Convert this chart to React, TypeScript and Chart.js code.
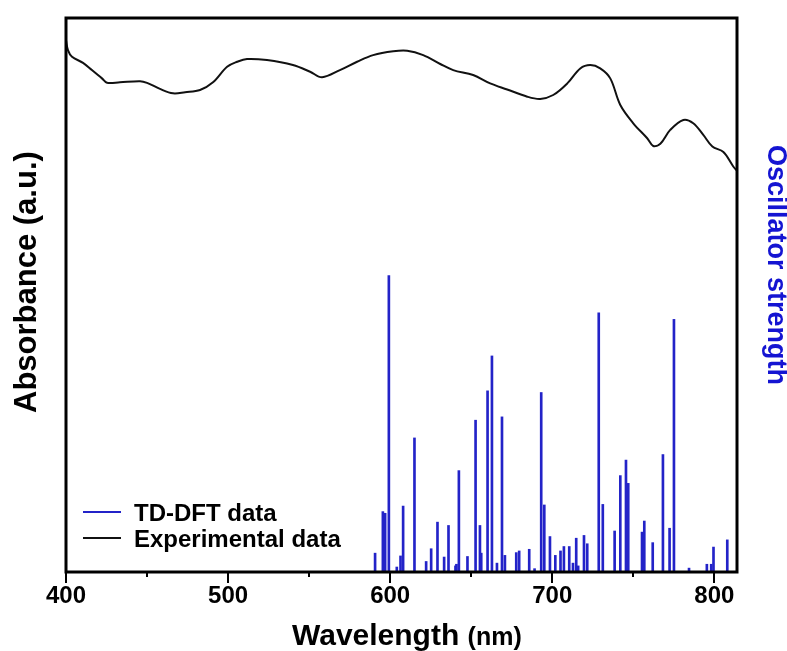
import React, { useEffect, useRef } from 'react';
import { Chart, registerables } from 'chart.js';

Chart.register(...registerables);

// Experimental absorbance spectrum (arbitrary units)
const expWavelength = [400, 401.2, 403.7, 410.5, 416, 422.2, 425.3, 433.3, 445.7, 450, 458, 466, 473.5, 482.7, 490.7, 499.4, 505.6, 511.7, 524, 540, 550.6, 558, 569, 579.6, 589.5, 601.9, 610.5, 620.4, 630.9, 638.9, 651.2, 661.7, 672.2, 684.6, 692.6, 700.6, 709.3, 717.3, 723.5, 729.6, 735.8, 742, 750, 758.6, 762.3, 766.7, 772.8, 780.9, 787, 793.2, 798.8, 805.6, 811.7, 814];
const expAbsorbance = [0.960, 0.942, 0.930, 0.919, 0.906, 0.891, 0.883, 0.884, 0.886, 0.883, 0.872, 0.864, 0.866, 0.870, 0.884, 0.912, 0.921, 0.926, 0.924, 0.915, 0.903, 0.893, 0.906, 0.921, 0.933, 0.940, 0.941, 0.933, 0.917, 0.906, 0.897, 0.882, 0.871, 0.858, 0.854, 0.861, 0.882, 0.909, 0.915, 0.909, 0.891, 0.843, 0.810, 0.783, 0.769, 0.773, 0.798, 0.816, 0.810, 0.789, 0.768, 0.758, 0.732, 0.724];

// TD-DFT transitions (arbitrary units)
const tdWavelength = [590.7, 595.5, 596.9, 599.2, 604.1, 606.4, 608.0, 615.0, 622.2, 625.3, 629.2, 633.3, 636.0, 640.3, 640.9, 642.4, 647.7, 652.7, 655.4, 656.2, 660.1, 662.8, 665.9, 669.0, 670.8, 677.8, 679.6, 685.8, 689.1, 693.2, 695.1, 698.6, 701.9, 705.1, 707.2, 710.5, 712.8, 714.8, 716.0, 719.6, 721.6, 728.7, 731.2, 738.5, 742.0, 745.5, 746.9, 755.4, 756.8, 762.0, 768.3, 772.4, 775.1, 784.4, 795.4, 798.1, 799.5, 808.0];
const tdStrength = [0.034, 0.109, 0.106, 0.535, 0.009, 0.029, 0.119, 0.242, 0.019, 0.042, 0.090, 0.027, 0.084, 0.011, 0.014, 0.183, 0.028, 0.274, 0.084, 0.034, 0.327, 0.390, 0.016, 0.280, 0.030, 0.035, 0.038, 0.041, 0.006, 0.324, 0.121, 0.064, 0.030, 0.038, 0.046, 0.046, 0.016, 0.061, 0.011, 0.066, 0.051, 0.468, 0.122, 0.074, 0.174, 0.202, 0.160, 0.072, 0.092, 0.053, 0.212, 0.079, 0.456, 0.007, 0.014, 0.014, 0.045, 0.058];

const xMajorTicks = [400, 500, 600, 700, 800];
const xMinorTicks = [450, 550, 650, 750];
const xRange = [400, 814];
const seriesLabels = ['TD-DFT data', 'Experimental data'];
const xTitle = 'Wavelength';
const xUnit = '(nm)';
const yLeftTitle = 'Absorbance (a.u.)';
const yRightTitle = 'Oscillator strength';

const FONT = '"Liberation Sans", Arial, Helvetica, sans-serif';
const BLUE = '#2323c8';
const TITLE_BLUE = '#1414d2';

const decorPlugin = {
  id: 'decor',
  afterDraw(chart: any) {
    const { ctx, chartArea } = chart;
    const xs = chart.scales.x;
    const { left, right, top, bottom } = chartArea;
    ctx.save();
    // frame
    ctx.strokeStyle = '#000';
    ctx.lineWidth = 3;
    ctx.strokeRect(left, top, right - left, bottom - top);
    // ticks
    ctx.lineWidth = 2;
    ctx.beginPath();
    xMajorTicks.forEach((v) => {
      const p = Math.round(xs.getPixelForValue(v));
      ctx.moveTo(p, bottom);
      ctx.lineTo(p, bottom + 11);
    });
    xMinorTicks.forEach((v) => {
      const p = Math.round(xs.getPixelForValue(v));
      ctx.moveTo(p, bottom);
      ctx.lineTo(p, bottom + 5);
    });
    ctx.stroke();

    // x title
    ctx.fillStyle = '#000';
    ctx.textBaseline = 'alphabetic';
    ctx.textAlign = 'left';
    ctx.font = `bold 30px ${FONT}`;
    const w1 = ctx.measureText(xTitle + ' ').width;
    const x0 = 292;
    ctx.fillText(xTitle, x0, 645);
    ctx.font = `bold 25px ${FONT}`;
    ctx.fillText(xUnit, x0 + w1, 645);

    // left title
    ctx.save();
    ctx.translate(36, 413);
    ctx.rotate(-Math.PI / 2);
    ctx.font = `bold 31px ${FONT}`;
    ctx.fillStyle = '#000';
    ctx.fillText(yLeftTitle, 0, 0);
    ctx.restore();

    // right title
    ctx.save();
    ctx.translate(768, 145);
    ctx.rotate(Math.PI / 2);
    ctx.font = `bold 27px ${FONT}`;
    ctx.fillStyle = TITLE_BLUE;
    ctx.fillText(yRightTitle, 0, 0);
    ctx.restore();

    // legend
    const colors = chart.data.datasets.map((d: any) => d.borderColor || d.backgroundColor);
    const rows = [512, 538];
    ctx.font = `bold 24px ${FONT}`;
    ctx.textBaseline = 'middle';
    seriesLabels.forEach((lab, i) => {
      ctx.strokeStyle = colors[i];
      ctx.lineWidth = 2;
      ctx.beginPath();
      ctx.moveTo(83, rows[i]);
      ctx.lineTo(121, rows[i]);
      ctx.stroke();
      ctx.fillStyle = '#000';
      ctx.fillText(lab, 134, rows[i] + 2);
    });
    ctx.restore();
  },
};

export default function App() {
  const ref = useRef<HTMLCanvasElement | null>(null);
  useEffect(() => {
    if (!ref.current) return;
    const chart = new Chart(ref.current, {
      type: 'line',
      data: {
        datasets: [
          {
            type: 'bar',
            label: seriesLabels[0],
            data: tdWavelength.map((x, i) => ({ x, y: tdStrength[i] })),
            backgroundColor: BLUE,
            borderColor: BLUE,
            borderWidth: 0,
            barThickness: 2,
            yAxisID: 'y2',
          } as any,
          {
            type: 'line',
            label: seriesLabels[1],
            data: expWavelength.map((x, i) => ({ x, y: expAbsorbance[i] })),
            borderColor: '#111111',
            borderWidth: 2,
            pointRadius: 0,
            tension: 0.35,
            fill: false,
            yAxisID: 'y',
          },
        ],
      },
      options: {
        responsive: false,
        animation: false,
        devicePixelRatio: 1,
        layout: { padding: { left: 66, right: 50, top: 18, bottom: 0 } },
        plugins: { legend: { display: false }, tooltip: { enabled: false } },
        scales: {
          x: {
            type: 'linear',
            min: xRange[0],
            max: xRange[1],
            offset: false,
            grid: { display: false, drawTicks: false, offset: false },
            border: { display: false },
            afterBuildTicks: (s: any) => {
              s.ticks = xMajorTicks.map((v) => ({ value: v }));
            },
            afterFit: (s: any) => {
              s.height = 79;
            },
            ticks: {
              color: '#000',
              padding: 10,
              maxRotation: 0,
              autoSkip: false,
              font: { family: FONT, size: 24, weight: 'bold' },
              callback: (v: any) => String(v),
            },
          },
          y: { display: false, min: 0, max: 1 },
          y2: { display: false, position: 'right', min: 0, max: 1 },
        },
      },
      plugins: [decorPlugin],
    });
    return () => chart.destroy();
  }, []);
  return (
    <div style={{ position: 'absolute', left: 0, top: 0, width: 787, height: 651, background: '#fff' }}>
      <canvas ref={ref} width={787} height={651} style={{ display: 'block' }} />
    </div>
  );
}
